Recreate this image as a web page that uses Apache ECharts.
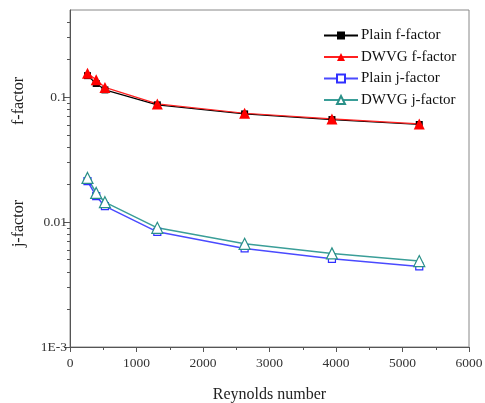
<!DOCTYPE html>
<html>
<head>
<meta charset="utf-8">
<script src="https://cdn.jsdelivr.net/npm/echarts@6/dist/echarts.min.js"></script>
<style>html,body{margin:0;padding:0;background:#fff}#c{width:485px;height:403px}</style>
</head>
<body>
<div id="c"></div>
<script>
const reynolds = [263, 394, 525, 1313, 2626, 3939, 5252];
const plainF = [0.149, 0.129, 0.1146, 0.087, 0.0736, 0.0663, 0.0605];
const dwvgF = [0.1556, 0.138, 0.120, 0.0885, 0.0745, 0.0671, 0.0612];
const plainJ = [0.0213, 0.01614, 0.01343, 0.00836, 0.00616, 0.00508, 0.00442];
const dwvgJ = [0.0226, 0.01714, 0.01445, 0.0090, 0.0067, 0.00562, 0.00488];
const xTicks = [0, 1000, 2000, 3000, 4000, 5000, 6000];
const yMajorTicks = [0.001, 0.01, 0.1];
const yMajorLabels = ['1E-3', '0.01', '0.1'];
const yMinorTicks = [0.002,0.003,0.004,0.005,0.006,0.007,0.008,0.009,
                     0.02,0.03,0.04,0.05,0.06,0.07,0.08,0.09,
                     0.2,0.3,0.4];
const seriesNames = ['Plain f-factor', 'DWVG f-factor', 'Plain j-factor', 'DWVG j-factor'];

const pairs = ys => reynolds.map((x, i) => [x, ys[i]]);
const font = 'Liberation Serif';

const chart = echarts.init(document.getElementById('c'), null, {renderer: 'canvas'});
const logAxisBase = {
  type: 'log', logBase: 10, min: 0.001, max: 0.5, position: 'left',
  splitLine: {show: false}, minorTick: {show: false}, minorSplitLine: {show: false}
};
chart.setOption({
  animation: false,
  backgroundColor: '#fff',
  grid: {left: 70, right: 16, top: 10, bottom: 56, show: true, borderColor: '#888', borderWidth: 1,
    containLabel: false, outerBoundsMode: 'none'},
  legend: {
    orient: 'vertical', left: 323, top: 28, padding: 0, itemWidth: 34, itemHeight: 10, itemGap: 6.5,
    textStyle: {fontFamily: font, fontSize: 15, color: '#111', padding: [0,0,0,-2]},
    data: seriesNames
  },
  xAxis: {
    type: 'value', min: 0, max: 6000, interval: 1000,
    name: 'Reynolds number', nameLocation: 'middle', nameGap: 40,
    nameTextStyle: {fontFamily: font, fontSize: 16, color: '#222'},
    axisLine: {lineStyle: {color: '#555'}},
    axisTick: {length: 5, lineStyle: {color: '#555'}},
    minorTick: {show: true, splitNumber: 2, length: 3, lineStyle: {color: '#555'}},
    axisLabel: {fontFamily: font, fontSize: 13.5, color: '#333', margin: 9,
      customValues: xTicks, formatter: v => String(v)},
    splitLine: {show: false}
  },
  yAxis: [
    Object.assign({}, logAxisBase, {
      axisLine: {show: true, lineStyle: {color: '#555'}},
      axisTick: {show: true, length: 6, lineStyle: {color: '#555'}, customValues: yMajorTicks},
      axisLabel: {fontFamily: font, fontSize: 13.5, color: '#333', margin: 3,
        customValues: yMajorTicks,
        formatter: v => { const i = yMajorTicks.findIndex(t => Math.abs(Math.log10(t) - Math.log10(v)) < 1e-6); return i >= 0 ? yMajorLabels[i] : ''; }}
    }),
    Object.assign({}, logAxisBase, {
      axisLine: {show: false},
      axisTick: {show: true, length: 3, lineStyle: {color: '#555'}, customValues: yMinorTicks},
      axisLabel: {show: false}
    })
  ],
  graphic: [
    {type: 'text', left: 11, top: 77, rotation: Math.PI/2,
      style: {text: 'f-factor', fontFamily: font, fontSize: 16, fill: '#222'}},
    {type: 'text', left: 11, top: 200, rotation: Math.PI/2,
      style: {text: 'j-factor', fontFamily: font, fontSize: 16, fill: '#222'}}
  ],
  series: [
    {name: seriesNames[0], type: 'line', data: pairs(plainF), symbol: 'rect', symbolSize: 7,
      lineStyle: {color: '#000', width: 1.2}, itemStyle: {color: '#000'}},
    {name: seriesNames[1], type: 'line', data: pairs(dwvgF), symbol: 'triangle', symbolSize: 11,
      lineStyle: {color: '#ff2020', width: 1.2}, itemStyle: {color: '#ff0000'}},
    {name: seriesNames[2], type: 'line', data: pairs(plainJ), symbol: 'rect', symbolSize: 7,
      lineStyle: {color: '#4a4aff', width: 1.5}, itemStyle: {color: '#fff', borderColor: '#3030ff', borderWidth: 1.2}},
    {name: seriesNames[3], type: 'line', data: pairs(dwvgJ), symbol: 'triangle', symbolSize: 11,
      lineStyle: {color: '#3a9e98', width: 1.5}, itemStyle: {color: '#fff', borderColor: '#2a9088', borderWidth: 1.2}}
  ]
});
</script>
</body>
</html>
